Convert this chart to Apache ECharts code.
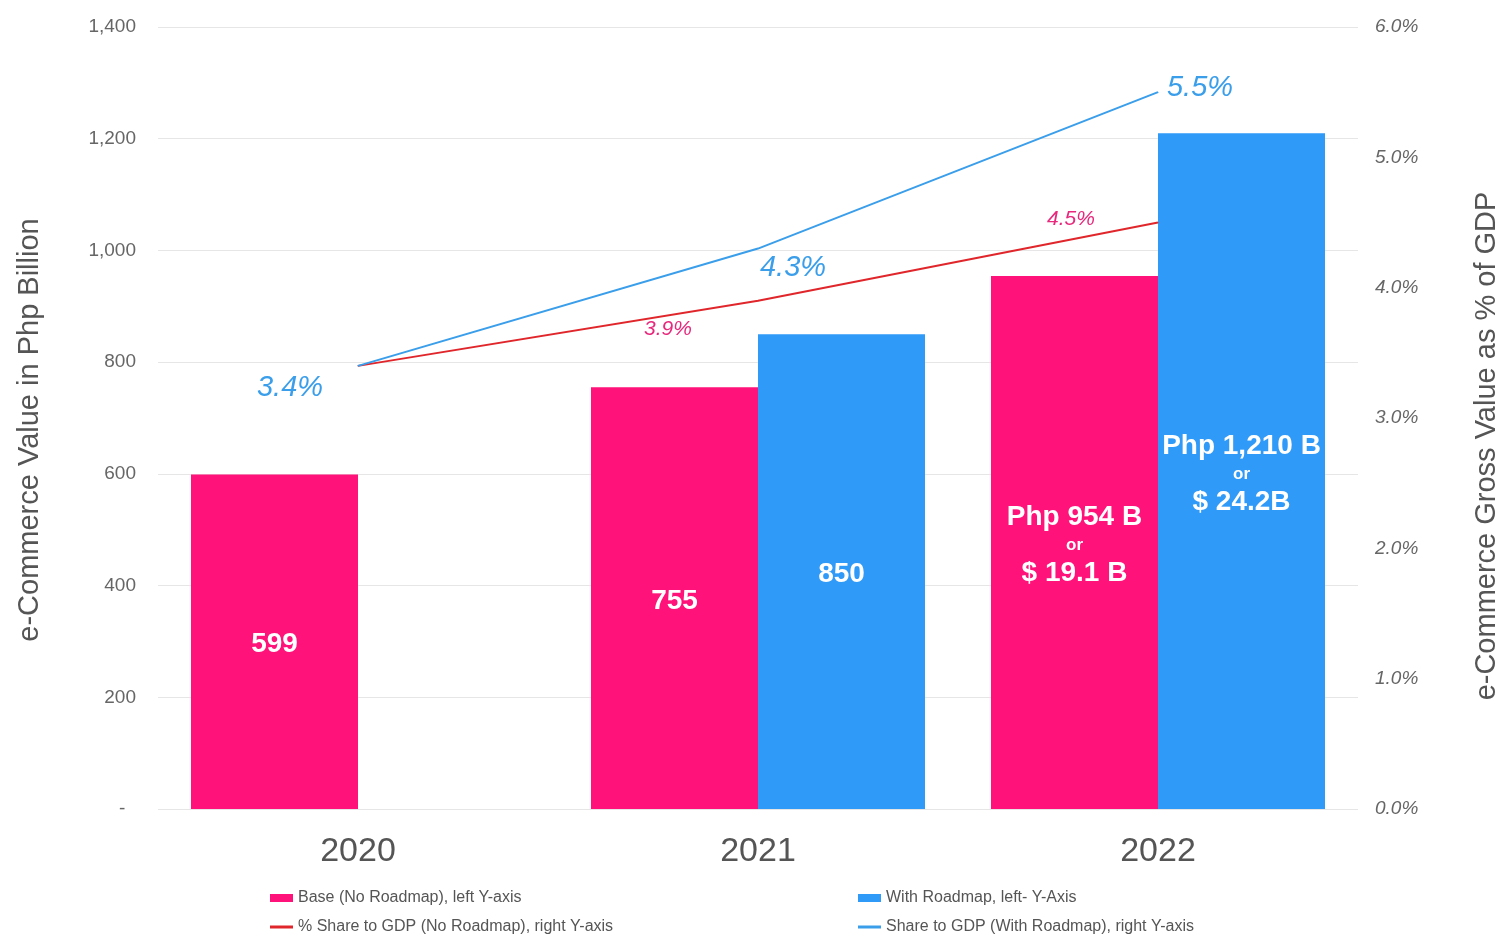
<!DOCTYPE html>
<html>
<head>
<meta charset="utf-8">
<script src="https://cdn.jsdelivr.net/npm/echarts@6/dist/echarts.min.js"></script>
<style>
  html, body { margin: 0; padding: 0; background: #ffffff; }
  #chart { width: 1498px; height: 934px; }
</style>
</head>
<body>
<div id="chart"></div>
<script>
// e-Commerce value (Php billion) and share of GDP (%), 2020-2022
const years = ['2020', '2021', '2022'];
const baseValues = [599, 755, 954];          // Base (No Roadmap), left axis
const roadmapValues = [null, 850, 1210];     // With Roadmap, left axis
const shareBase = [3.4, 3.9, 4.5];           // % of GDP, no roadmap, right axis
const shareRoadmap = [3.4, 4.3, 5.5];        // % of GDP, with roadmap, right axis
const usdBase = [null, null, 19.1];          // USD billion equivalents
const usdRoadmap = [null, null, 24.2];
const leftTicks = { min: 0, max: 1400, interval: 200 };
const rightTicks = { min: 0, max: 6, interval: 1 };
const leftAxisTitle = 'e-Commerce Value in Php Billion';
const rightAxisTitle = 'e-Commerce Gross Value as % of GDP';

const PINK = '#FF1279';
const BLUE = '#2F9AF8';
const RED = '#E0262B';
const LINE_BLUE = '#3A9EEA';
const FONT = '"Liberation Sans", Arial, Helvetica, sans-serif';

const fmtNum = v => v.toLocaleString('en-US');

function barLabel(usdArr) {
  return {
    show: true,
    position: 'inside',
    offset: [0, 3],
    fontFamily: FONT,
    formatter: p => {
      const usd = usdArr[p.dataIndex];
      if (usd == null) return '{big|' + fmtNum(p.value) + '}';
      return '{big|Php ' + fmtNum(p.value) + ' B}\n{or|or}\n{big|$ ' + usd + (usdArr === usdBase ? ' B' : 'B') + '}';
    },
    rich: {
      big: { color: '#fff', fontSize: 28, fontWeight: 'bold', fontFamily: FONT, lineHeight: 28 },
      or: { color: '#fff', fontSize: 17, fontWeight: 'bold', fontFamily: FONT, lineHeight: 28 }
    }
  };
}

// per-point label placement for the share lines
const roadmapLabelOffsets = [[-68, 22], [35, 19], [42, -4]];
const baseLabelOffsets = [null, [-90, 28], [-87, -3]];

function lineData(values, offsets, color, size) {
  return values.map((v, i) => ({
    value: v,
    label: offsets[i] ? {
      show: true,
      position: 'inside',
      offset: offsets[i],
      formatter: v.toFixed(1) + '%',
      color: color,
      fontSize: size,
      fontStyle: 'italic',
      fontFamily: FONT
    } : { show: false }
  }));
}

const chart = echarts.init(document.getElementById('chart'), null, { renderer: 'canvas' });

const legendText = { color: '#555', fontSize: 16, fontFamily: FONT };
const axisTitleStyle = { fill: '#555', fontSize: 29, fontFamily: FONT, textAlign: 'center', textVerticalAlign: 'middle' };

chart.setOption({
  backgroundColor: '#ffffff',
  animation: false,
  grid: { left: 158, right: 140, top: 27, bottom: 125, outerBoundsMode: 'none', containLabel: false },
  graphic: [
    { type: 'text', x: 30, y: 430, rotation: Math.PI / 2, style: Object.assign({ text: leftAxisTitle }, axisTitleStyle) },
    { type: 'text', x: 1487, y: 446, rotation: Math.PI / 2, style: Object.assign({ text: rightAxisTitle }, axisTitleStyle) }
  ],
  legend: [
    { data: ['Base (No Roadmap), left Y-axis'], left: 265, top: 885, icon: 'rect', itemWidth: 23, itemHeight: 8, itemGap: 0, textStyle: legendText, selectedMode: false },
    { data: ['% Share to GDP (No Roadmap), right Y-axis'], left: 265, top: 914, icon: 'rect', itemWidth: 23, itemHeight: 3, textStyle: legendText, selectedMode: false },
    { data: ['With Roadmap, left- Y-Axis'], left: 853, top: 885, icon: 'rect', itemWidth: 23, itemHeight: 8, textStyle: legendText, selectedMode: false },
    { data: ['Share to GDP (With Roadmap), right Y-axis'], left: 853, top: 914, icon: 'rect', itemWidth: 23, itemHeight: 3, textStyle: legendText, selectedMode: false }
  ],
  xAxis: {
    type: 'category',
    data: years,
    axisLine: { show: false },
    axisTick: { show: false },
    axisLabel: { color: '#555', fontSize: 34, fontFamily: FONT, margin: 26 }
  },
  yAxis: [
    {
      type: 'value',
      min: leftTicks.min, max: leftTicks.max, interval: leftTicks.interval,
      axisLine: { show: false },
      axisTick: { show: false },
      axisLabel: {
        color: '#666', fontSize: 19, fontFamily: FONT, margin: 22,
        formatter: v => v === 0 ? '-  ' : fmtNum(v)
      },
      splitLine: { lineStyle: { color: '#e6e6e6', width: 1 } }
    },
    {
      type: 'value',
      min: rightTicks.min, max: rightTicks.max, interval: rightTicks.interval,
      axisLine: { show: false },
      axisTick: { show: false },
      axisLabel: {
        color: '#666', fontSize: 19, fontStyle: 'italic', fontFamily: FONT, margin: 17,
        formatter: v => v.toFixed(1) + '%'
      },
      splitLine: { show: false }
    }
  ],
  series: [
    {
      name: 'Base (No Roadmap), left Y-axis',
      type: 'bar',
      data: baseValues,
      barWidth: 167,
      barGap: '0%',
      itemStyle: { color: PINK },
      label: barLabel(usdBase)
    },
    {
      name: 'With Roadmap, left- Y-Axis',
      type: 'bar',
      data: roadmapValues,
      barWidth: 167,
      barGap: '0%',
      itemStyle: { color: BLUE },
      label: barLabel(usdRoadmap)
    },
    {
      name: '% Share to GDP (No Roadmap), right Y-axis',
      type: 'line',
      yAxisIndex: 1,
      data: lineData(shareBase, baseLabelOffsets, '#E8287C', 21),
      symbol: 'circle',
      symbolSize: 1,
      lineStyle: { color: RED, width: 2 },
      itemStyle: { color: RED },
      z: 5
    },
    {
      name: 'Share to GDP (With Roadmap), right Y-axis',
      type: 'line',
      yAxisIndex: 1,
      data: lineData(shareRoadmap, roadmapLabelOffsets, LINE_BLUE, 29),
      symbol: 'circle',
      symbolSize: 1,
      lineStyle: { color: LINE_BLUE, width: 2 },
      itemStyle: { color: LINE_BLUE },
      z: 6
    }
  ]
});
</script>
</body>
</html>
